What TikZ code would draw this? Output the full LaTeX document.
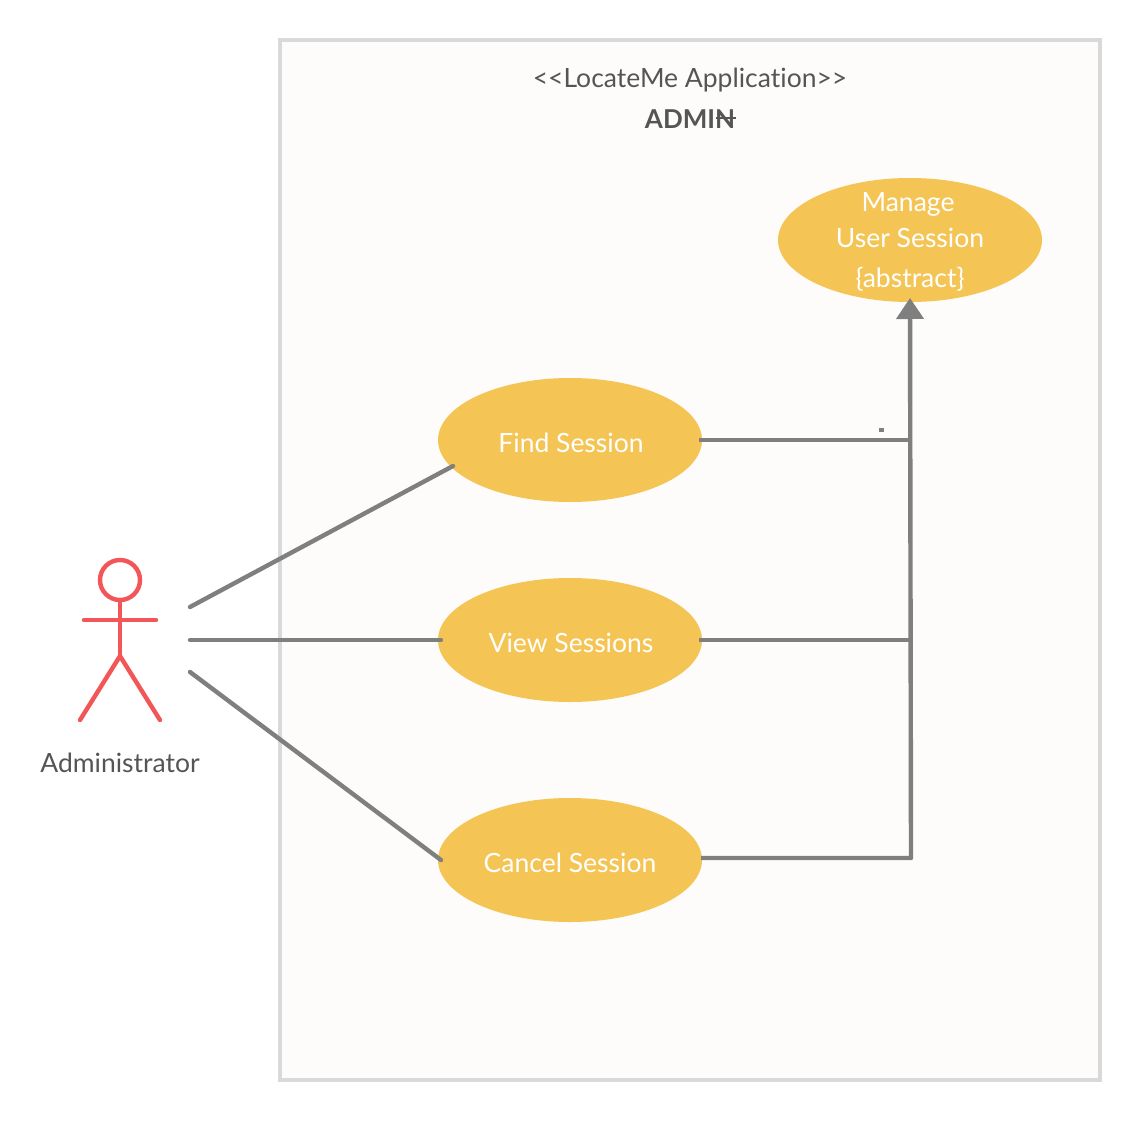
\documentclass[tikz,border=0pt]{standalone}
\usepackage{fontspec}
\setmainfont[Ligatures=CommonOff]{Lato}
\usetikzlibrary{arrows.meta,shapes.geometric}
\definecolor{frameC}{HTML}{D9D9D9}
\definecolor{paperC}{HTML}{FDFCFA}
\definecolor{caseC}{HTML}{F4C555}
\definecolor{wireC}{HTML}{7F7F7F}
\definecolor{actorC}{HTML}{F25656}
\definecolor{textC}{HTML}{555555}
\tikzset{
  usecase/.style={ellipse,fill=caseC,minimum width=264pt,minimum height=124pt,inner sep=0pt},
  casetext/.style={text=white,inner sep=0pt,font=\fontsize{26.5}{30}\selectfont},
  wire/.style={draw=wireC,line width=4.4pt},
  limb/.style={draw=actorC,line width=4.4pt,line cap=round},
  caption/.style={text=textC,inner sep=0pt,font=\fontsize{26.5}{30}\selectfont},
}
\begin{document}
\begin{tikzpicture}[x=1pt,y=-1pt]
\useasboundingbox (0,0) rectangle (1140,1121);
\fill[white] (0,0) rectangle (1140,1121);
\node[draw=frameC,fill=paperC,line width=4pt,minimum width=820pt,minimum height=1040pt,inner sep=0pt] (system) at (690,560) {};
\node[caption] (title) at (690,80.5) {<{}<LocateMe Application>{}>};
\node[caption,font=\fontsize{26}{30}\selectfont\bfseries] (admin) at (690,119) {ADMIN};
\coordinate (strikeA) at (716,118);
\coordinate (strikeB) at (736,118);
\draw[textC,line width=2pt] (strikeA) -- (strikeB);
\node[usecase] (manage) at (910,240) {};
\node[casetext] (manageA) at (908,204) {Manage};
\node[casetext] (manageB) at (910,238) {User Session};
\node[casetext] (manageC) at (910,279.5) {\{abstract\}};
\node[usecase] (find) at (570,440) {};
\node[usecase] (view) at (570,640) {};
\node[usecase] (cancel) at (570,860) {};
\node[casetext] at (571,443) {Find Session};
\node[casetext] at (571,643) {View Sessions};
\node[casetext] at (570,863) {Cancel Session};
% actor
\node[draw=actorC,line width=4.4pt,circle,minimum size=40pt,inner sep=0pt] (head) at (120,580) {};
\coordinate (hip) at (120,656);
\coordinate (armL) at (84,620);
\coordinate (armR) at (156,620);
\coordinate (footL) at (80,720);
\coordinate (footR) at (160,720);
\draw[limb] (head.south) -- (hip);
\draw[limb] (armL) -- (armR);
\draw[limb,line join=round] (footL) -- (hip) -- (footR);
\node[caption] (actorName) at (120,763) {Administrator};
% associations
\coordinate (a1) at (190,607);
\coordinate (a2) at (190,640);
\coordinate (a3) at (190,672);
\coordinate (e1) at (453,466);
\coordinate (e2) at (441,640);
\coordinate (e3) at (441,860);
\draw[wire,line cap=round] (a1) -- (e1);
\draw[wire,line cap=round] (a2) -- (e2);
\draw[wire,line cap=round] (a3) -- (e3);
% generalisation
\coordinate (f1) at (699,440);
\coordinate (f2) at (699,640);
\coordinate (f3) at (701,858);
\coordinate (j1) at (909,440);
\coordinate (j2) at (909,640);
\coordinate (corner) at (911,858);
\coordinate (tip) at (910,298);
\draw[wire] (f1) -- (j1);
\draw[wire] (f2) -- (j2);
\draw[wire,-{Triangle[width=27pt,length=21pt]},line join=round] (f3) -- (corner) -- (tip);
\node[fill=wireC,minimum width=5pt,minimum height=3.5pt,inner sep=0pt] (speck) at (881,430) {};
\end{tikzpicture}
\end{document}
